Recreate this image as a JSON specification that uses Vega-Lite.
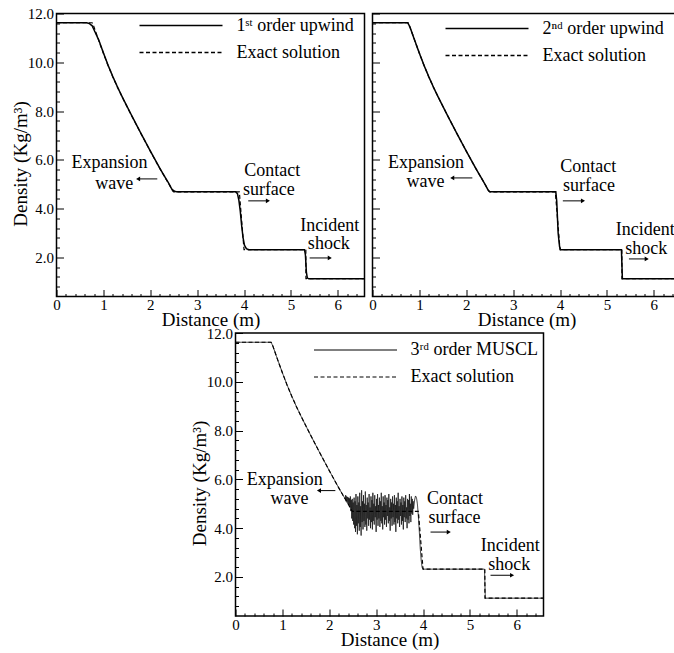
{
  "$schema": "https://vega.github.io/schema/vega-lite/v6.json",
  "padding": {"left": 10.5, "top": 5.5, "right": 0, "bottom": 0},
  "background": "white",
  "spacing": -5.5,
  "resolve": {"scale": {"x": "independent", "y": "independent", "strokeDash": "independent", "shape": "independent"}, "legend": {"strokeDash": "independent"}, "axis": {"x": "independent", "y": "independent"}},
  "config": {
    "view": {"stroke": "black", "strokeWidth": 1.5},
    "axis": {"domain": false, "grid": false, "labelFont": "Liberation Serif, Times New Roman, Times, serif", "labelFontSize": 15, "labelColor": "black", "titleFont": "Liberation Serif, Times New Roman, Times, serif", "titleFontSize": 19, "titleFontWeight": "normal", "titleColor": "black", "tickColor": "black", "tickWidth": 1, "labelOverlap": false, "labelFlush": false},
    "legend": {"title": null, "orient": "none", "symbolType": "stroke", "symbolSize": 6889, "clipHeight": 18, "labelFont": "Liberation Serif, Times New Roman, Times, serif", "labelFontSize": 18, "labelColor": "black", "labelOffset": 13, "rowPadding": 9, "padding": 0, "symbolStrokeColor": "black", "symbolStrokeWidth": 1.3, "labelLimit": 400}
  },
  "datasets": {
    "exact": [
      {"s": "Exact solution", "x": 0, "y": 11.62}, {"s": "Exact solution", "x": 0.76, "y": 11.62}, {"s": "Exact solution", "x": 0.8, "y": 11.45}, {"s": "Exact solution", "x": 0.9, "y": 10.9}, {"s": "Exact solution", "x": 1.0, "y": 10.37}, {"s": "Exact solution", "x": 1.1, "y": 9.87}, {"s": "Exact solution", "x": 1.2, "y": 9.41}, {"s": "Exact solution", "x": 1.3, "y": 8.98}, {"s": "Exact solution", "x": 1.4, "y": 8.58}, {"s": "Exact solution", "x": 1.5, "y": 8.2}, {"s": "Exact solution", "x": 1.6, "y": 7.82}, {"s": "Exact solution", "x": 1.7, "y": 7.45}, {"s": "Exact solution", "x": 1.8, "y": 7.08}, {"s": "Exact solution", "x": 1.9, "y": 6.72}, {"s": "Exact solution", "x": 2.0, "y": 6.36}, {"s": "Exact solution", "x": 2.1, "y": 6.01}, {"s": "Exact solution", "x": 2.2, "y": 5.66}, {"s": "Exact solution", "x": 2.3, "y": 5.33}, {"s": "Exact solution", "x": 2.4, "y": 5.0}, {"s": "Exact solution", "x": 2.48, "y": 4.72}, {"s": "Exact solution", "x": 2.5, "y": 4.69}, {"s": "Exact solution", "x": 3.9, "y": 4.69}, {"s": "Exact solution", "x": 4.0, "y": 2.32}, {"s": "Exact solution", "x": 5.319, "y": 2.32}, {"s": "Exact solution", "x": 5.321, "y": 1.13}, {"s": "Exact solution", "x": 6.57, "y": 1.13}
    ],
    "n1": [
      {"s": "1ˢᵗ order upwind", "x": 0, "y": 11.62}, {"s": "1ˢᵗ order upwind", "x": 0.64, "y": 11.62}, {"s": "1ˢᵗ order upwind", "x": 0.7, "y": 11.59}, {"s": "1ˢᵗ order upwind", "x": 0.76, "y": 11.5}, {"s": "1ˢᵗ order upwind", "x": 0.82, "y": 11.25}, {"s": "1ˢᵗ order upwind", "x": 0.9, "y": 10.92}, {"s": "1ˢᵗ order upwind", "x": 1.0, "y": 10.39}, {"s": "1ˢᵗ order upwind", "x": 1.1, "y": 9.88}, {"s": "1ˢᵗ order upwind", "x": 1.2, "y": 9.42}, {"s": "1ˢᵗ order upwind", "x": 1.3, "y": 8.99}, {"s": "1ˢᵗ order upwind", "x": 1.4, "y": 8.59}, {"s": "1ˢᵗ order upwind", "x": 1.5, "y": 8.21}, {"s": "1ˢᵗ order upwind", "x": 1.6, "y": 7.83}, {"s": "1ˢᵗ order upwind", "x": 1.7, "y": 7.46}, {"s": "1ˢᵗ order upwind", "x": 1.8, "y": 7.09}, {"s": "1ˢᵗ order upwind", "x": 1.9, "y": 6.73}, {"s": "1ˢᵗ order upwind", "x": 2.0, "y": 6.37}, {"s": "1ˢᵗ order upwind", "x": 2.1, "y": 6.02}, {"s": "1ˢᵗ order upwind", "x": 2.2, "y": 5.67}, {"s": "1ˢᵗ order upwind", "x": 2.3, "y": 5.34}, {"s": "1ˢᵗ order upwind", "x": 2.4, "y": 5.02}, {"s": "1ˢᵗ order upwind", "x": 2.46, "y": 4.8}, {"s": "1ˢᵗ order upwind", "x": 2.52, "y": 4.71}, {"s": "1ˢᵗ order upwind", "x": 2.58, "y": 4.69}, {"s": "1ˢᵗ order upwind", "x": 3.82, "y": 4.69}, {"s": "1ˢᵗ order upwind", "x": 3.86, "y": 4.62}, {"s": "1ˢᵗ order upwind", "x": 3.89, "y": 4.35}, {"s": "1ˢᵗ order upwind", "x": 3.92, "y": 3.9}, {"s": "1ˢᵗ order upwind", "x": 3.95, "y": 3.3}, {"s": "1ˢᵗ order upwind", "x": 3.98, "y": 2.8}, {"s": "1ˢᵗ order upwind", "x": 4.01, "y": 2.5}, {"s": "1ˢᵗ order upwind", "x": 4.05, "y": 2.36}, {"s": "1ˢᵗ order upwind", "x": 4.1, "y": 2.32}, {"s": "1ˢᵗ order upwind", "x": 5.29, "y": 2.32}, {"s": "1ˢᵗ order upwind", "x": 5.31, "y": 2.1}, {"s": "1ˢᵗ order upwind", "x": 5.33, "y": 1.4}, {"s": "1ˢᵗ order upwind", "x": 5.35, "y": 1.16}, {"s": "1ˢᵗ order upwind", "x": 5.38, "y": 1.13}, {"s": "1ˢᵗ order upwind", "x": 6.57, "y": 1.13}
    ],
    "n2": [
      {"s": "2ⁿᵈ order upwind", "x": 0, "y": 11.62}, {"s": "2ⁿᵈ order upwind", "x": 0.75, "y": 11.62}, {"s": "2ⁿᵈ order upwind", "x": 0.78, "y": 11.52}, {"s": "2ⁿᵈ order upwind", "x": 0.82, "y": 11.33}, {"s": "2ⁿᵈ order upwind", "x": 0.9, "y": 10.9}, {"s": "2ⁿᵈ order upwind", "x": 1.0, "y": 10.37}, {"s": "2ⁿᵈ order upwind", "x": 1.1, "y": 9.87}, {"s": "2ⁿᵈ order upwind", "x": 1.2, "y": 9.41}, {"s": "2ⁿᵈ order upwind", "x": 1.3, "y": 8.98}, {"s": "2ⁿᵈ order upwind", "x": 1.4, "y": 8.58}, {"s": "2ⁿᵈ order upwind", "x": 1.5, "y": 8.2}, {"s": "2ⁿᵈ order upwind", "x": 1.6, "y": 7.82}, {"s": "2ⁿᵈ order upwind", "x": 1.7, "y": 7.45}, {"s": "2ⁿᵈ order upwind", "x": 1.8, "y": 7.08}, {"s": "2ⁿᵈ order upwind", "x": 1.9, "y": 6.72}, {"s": "2ⁿᵈ order upwind", "x": 2.0, "y": 6.36}, {"s": "2ⁿᵈ order upwind", "x": 2.1, "y": 6.01}, {"s": "2ⁿᵈ order upwind", "x": 2.2, "y": 5.66}, {"s": "2ⁿᵈ order upwind", "x": 2.3, "y": 5.33}, {"s": "2ⁿᵈ order upwind", "x": 2.4, "y": 5.0}, {"s": "2ⁿᵈ order upwind", "x": 2.47, "y": 4.75}, {"s": "2ⁿᵈ order upwind", "x": 2.51, "y": 4.69}, {"s": "2ⁿᵈ order upwind", "x": 3.91, "y": 4.69}, {"s": "2ⁿᵈ order upwind", "x": 3.93, "y": 4.3}, {"s": "2ⁿᵈ order upwind", "x": 3.96, "y": 3.0}, {"s": "2ⁿᵈ order upwind", "x": 3.99, "y": 2.45}, {"s": "2ⁿᵈ order upwind", "x": 4.01, "y": 2.32}, {"s": "2ⁿᵈ order upwind", "x": 5.31, "y": 2.32}, {"s": "2ⁿᵈ order upwind", "x": 5.33, "y": 1.13}, {"s": "2ⁿᵈ order upwind", "x": 6.57, "y": 1.13}
    ],
    "n3": [
      {"s": "3ʳᵈ order MUSCL", "x": 0, "y": 11.62}, {"s": "3ʳᵈ order MUSCL", "x": 0.76, "y": 11.62}, {"s": "3ʳᵈ order MUSCL", "x": 0.8, "y": 11.45}, {"s": "3ʳᵈ order MUSCL", "x": 0.9, "y": 10.9}, {"s": "3ʳᵈ order MUSCL", "x": 1.0, "y": 10.37}, {"s": "3ʳᵈ order MUSCL", "x": 1.1, "y": 9.87}, {"s": "3ʳᵈ order MUSCL", "x": 1.2, "y": 9.41}, {"s": "3ʳᵈ order MUSCL", "x": 1.3, "y": 8.98}, {"s": "3ʳᵈ order MUSCL", "x": 1.4, "y": 8.58}, {"s": "3ʳᵈ order MUSCL", "x": 1.5, "y": 8.2}, {"s": "3ʳᵈ order MUSCL", "x": 1.6, "y": 7.82}, {"s": "3ʳᵈ order MUSCL", "x": 1.7, "y": 7.45}, {"s": "3ʳᵈ order MUSCL", "x": 1.8, "y": 7.08}, {"s": "3ʳᵈ order MUSCL", "x": 1.9, "y": 6.72}, {"s": "3ʳᵈ order MUSCL", "x": 2.0, "y": 6.36}, {"s": "3ʳᵈ order MUSCL", "x": 2.1, "y": 6.01}, {"s": "3ʳᵈ order MUSCL", "x": 2.2, "y": 5.66}, {"s": "3ʳᵈ order MUSCL", "x": 2.3, "y": 5.33},
      {"s": "3ʳᵈ order MUSCL", "x": 2.34, "y": 5.2}, {"s": "3ʳᵈ order MUSCL", "x": 2.35, "y": 5.35}, {"s": "3ʳᵈ order MUSCL", "x": 2.36, "y": 5.1}, {"s": "3ʳᵈ order MUSCL", "x": 2.37, "y": 5.3}, {"s": "3ʳᵈ order MUSCL", "x": 2.38, "y": 5.05}, {"s": "3ʳᵈ order MUSCL", "x": 2.39, "y": 5.28}, {"s": "3ʳᵈ order MUSCL", "x": 2.4, "y": 5.0}, {"s": "3ʳᵈ order MUSCL", "x": 2.41, "y": 5.25}, {"s": "3ʳᵈ order MUSCL", "x": 2.42, "y": 4.95}, {"s": "3ʳᵈ order MUSCL", "x": 2.43, "y": 5.22}, {"s": "3ʳᵈ order MUSCL", "x": 2.44, "y": 4.85}, {"s": "3ʳᵈ order MUSCL", "x": 2.45, "y": 5.3}, {"s": "3ʳᵈ order MUSCL", "x": 2.46, "y": 4.7}, {"s": "3ʳᵈ order MUSCL", "x": 2.47, "y": 5.15}, {"s": "3ʳᵈ order MUSCL", "x": 2.48, "y": 4.4}, {"s": "3ʳᵈ order MUSCL", "x": 2.49, "y": 5.2}, {"s": "3ʳᵈ order MUSCL", "x": 2.5, "y": 4.3}, {"s": "3ʳᵈ order MUSCL", "x": 2.51, "y": 5.05}, {"s": "3ʳᵈ order MUSCL", "x": 2.52, "y": 4.15}, {"s": "3ʳᵈ order MUSCL", "x": 2.53, "y": 5.25}, {"s": "3ʳᵈ order MUSCL", "x": 2.54, "y": 4.0}, {"s": "3ʳᵈ order MUSCL", "x": 2.55, "y": 5.1}, {"s": "3ʳᵈ order MUSCL", "x": 2.56, "y": 3.85}, {"s": "3ʳᵈ order MUSCL", "x": 2.57, "y": 5.4}, {"s": "3ʳᵈ order MUSCL", "x": 2.58, "y": 4.1}, {"s": "3ʳᵈ order MUSCL", "x": 2.59, "y": 4.95}, {"s": "3ʳᵈ order MUSCL", "x": 2.6, "y": 3.75}, {"s": "3ʳᵈ order MUSCL", "x": 2.61, "y": 5.3}, {"s": "3ʳᵈ order MUSCL", "x": 2.62, "y": 4.2}, {"s": "3ʳᵈ order MUSCL", "x": 2.63, "y": 5.05}, {"s": "3ʳᵈ order MUSCL", "x": 2.64, "y": 3.9}, {"s": "3ʳᵈ order MUSCL", "x": 2.65, "y": 5.45}, {"s": "3ʳᵈ order MUSCL", "x": 2.66, "y": 4.05}, {"s": "3ʳᵈ order MUSCL", "x": 2.67, "y": 4.9}, {"s": "3ʳᵈ order MUSCL", "x": 2.68, "y": 3.7}, {"s": "3ʳᵈ order MUSCL", "x": 2.69, "y": 5.55}, {"s": "3ʳᵈ order MUSCL", "x": 2.7, "y": 4.25}, {"s": "3ʳᵈ order MUSCL", "x": 2.71, "y": 5.1}, {"s": "3ʳᵈ order MUSCL", "x": 2.72, "y": 3.95}, {"s": "3ʳᵈ order MUSCL", "x": 2.73, "y": 5.35}, {"s": "3ʳᵈ order MUSCL", "x": 2.74, "y": 4.3}, {"s": "3ʳᵈ order MUSCL", "x": 2.75, "y": 5.0}, {"s": "3ʳᵈ order MUSCL", "x": 2.76, "y": 4.05}, {"s": "3ʳᵈ order MUSCL", "x": 2.77, "y": 5.5}, {"s": "3ʳᵈ order MUSCL", "x": 2.78, "y": 4.15}, {"s": "3ʳᵈ order MUSCL", "x": 2.79, "y": 4.95}, {"s": "3ʳᵈ order MUSCL", "x": 2.8, "y": 3.9}, {"s": "3ʳᵈ order MUSCL", "x": 2.81, "y": 5.25}, {"s": "3ʳᵈ order MUSCL", "x": 2.82, "y": 4.4}, {"s": "3ʳᵈ order MUSCL", "x": 2.83, "y": 5.05}, {"s": "3ʳᵈ order MUSCL", "x": 2.84, "y": 4.1}, {"s": "3ʳᵈ order MUSCL", "x": 2.85, "y": 5.4}, {"s": "3ʳᵈ order MUSCL", "x": 2.86, "y": 4.35}, {"s": "3ʳᵈ order MUSCL", "x": 2.87, "y": 4.85}, {"s": "3ʳᵈ order MUSCL", "x": 2.88, "y": 4.0}, {"s": "3ʳᵈ order MUSCL", "x": 2.89, "y": 5.3}, {"s": "3ʳᵈ order MUSCL", "x": 2.9, "y": 4.25}, {"s": "3ʳᵈ order MUSCL", "x": 2.91, "y": 5.15}, {"s": "3ʳᵈ order MUSCL", "x": 2.92, "y": 3.95}, {"s": "3ʳᵈ order MUSCL", "x": 2.93, "y": 5.45}, {"s": "3ʳᵈ order MUSCL", "x": 2.94, "y": 4.3}, {"s": "3ʳᵈ order MUSCL", "x": 2.95, "y": 5.0}, {"s": "3ʳᵈ order MUSCL", "x": 2.96, "y": 4.15}, {"s": "3ʳᵈ order MUSCL", "x": 2.97, "y": 5.35}, {"s": "3ʳᵈ order MUSCL", "x": 2.98, "y": 4.45}, {"s": "3ʳᵈ order MUSCL", "x": 2.99, "y": 4.9}, {"s": "3ʳᵈ order MUSCL", "x": 3.0, "y": 3.85}, {"s": "3ʳᵈ order MUSCL", "x": 3.01, "y": 5.2}, {"s": "3ʳᵈ order MUSCL", "x": 3.02, "y": 4.35}, {"s": "3ʳᵈ order MUSCL", "x": 3.03, "y": 5.4}, {"s": "3ʳᵈ order MUSCL", "x": 3.04, "y": 4.1}, {"s": "3ʳᵈ order MUSCL", "x": 3.05, "y": 4.95}, {"s": "3ʳᵈ order MUSCL", "x": 3.06, "y": 4.4}, {"s": "3ʳᵈ order MUSCL", "x": 3.07, "y": 5.25}, {"s": "3ʳᵈ order MUSCL", "x": 3.08, "y": 4.05}, {"s": "3ʳᵈ order MUSCL", "x": 3.09, "y": 5.1}, {"s": "3ʳᵈ order MUSCL", "x": 3.1, "y": 4.3}, {"s": "3ʳᵈ order MUSCL", "x": 3.11, "y": 5.45}, {"s": "3ʳᵈ order MUSCL", "x": 3.12, "y": 4.2}, {"s": "3ʳᵈ order MUSCL", "x": 3.13, "y": 4.9}, {"s": "3ʳᵈ order MUSCL", "x": 3.14, "y": 3.95}, {"s": "3ʳᵈ order MUSCL", "x": 3.15, "y": 5.3}, {"s": "3ʳᵈ order MUSCL", "x": 3.16, "y": 4.45}, {"s": "3ʳᵈ order MUSCL", "x": 3.17, "y": 5.05}, {"s": "3ʳᵈ order MUSCL", "x": 3.18, "y": 4.15}, {"s": "3ʳᵈ order MUSCL", "x": 3.19, "y": 5.35}, {"s": "3ʳᵈ order MUSCL", "x": 3.2, "y": 4.35}, {"s": "3ʳᵈ order MUSCL", "x": 3.21, "y": 4.95}, {"s": "3ʳᵈ order MUSCL", "x": 3.22, "y": 4.05}, {"s": "3ʳᵈ order MUSCL", "x": 3.23, "y": 5.25}, {"s": "3ʳᵈ order MUSCL", "x": 3.24, "y": 4.5}, {"s": "3ʳᵈ order MUSCL", "x": 3.25, "y": 5.15}, {"s": "3ʳᵈ order MUSCL", "x": 3.26, "y": 4.2}, {"s": "3ʳᵈ order MUSCL", "x": 3.27, "y": 5.4}, {"s": "3ʳᵈ order MUSCL", "x": 3.28, "y": 4.3}, {"s": "3ʳᵈ order MUSCL", "x": 3.29, "y": 4.85}, {"s": "3ʳᵈ order MUSCL", "x": 3.3, "y": 3.9}, {"s": "3ʳᵈ order MUSCL", "x": 3.31, "y": 5.2}, {"s": "3ʳᵈ order MUSCL", "x": 3.32, "y": 4.4}, {"s": "3ʳᵈ order MUSCL", "x": 3.33, "y": 5.05}, {"s": "3ʳᵈ order MUSCL", "x": 3.34, "y": 4.1}, {"s": "3ʳᵈ order MUSCL", "x": 3.35, "y": 5.3}, {"s": "3ʳᵈ order MUSCL", "x": 3.36, "y": 4.45}, {"s": "3ʳᵈ order MUSCL", "x": 3.37, "y": 5.0}, {"s": "3ʳᵈ order MUSCL", "x": 3.38, "y": 4.15}, {"s": "3ʳᵈ order MUSCL", "x": 3.39, "y": 5.35}, {"s": "3ʳᵈ order MUSCL", "x": 3.4, "y": 4.25}, {"s": "3ʳᵈ order MUSCL", "x": 3.41, "y": 4.95}, {"s": "3ʳᵈ order MUSCL", "x": 3.42, "y": 3.85}, {"s": "3ʳᵈ order MUSCL", "x": 3.43, "y": 5.25}, {"s": "3ʳᵈ order MUSCL", "x": 3.44, "y": 4.4}, {"s": "3ʳᵈ order MUSCL", "x": 3.45, "y": 5.1}, {"s": "3ʳᵈ order MUSCL", "x": 3.46, "y": 4.2}, {"s": "3ʳᵈ order MUSCL", "x": 3.47, "y": 5.45}, {"s": "3ʳᵈ order MUSCL", "x": 3.48, "y": 4.35}, {"s": "3ʳᵈ order MUSCL", "x": 3.49, "y": 4.9}, {"s": "3ʳᵈ order MUSCL", "x": 3.5, "y": 4.05}, {"s": "3ʳᵈ order MUSCL", "x": 3.51, "y": 5.2}, {"s": "3ʳᵈ order MUSCL", "x": 3.52, "y": 4.5}, {"s": "3ʳᵈ order MUSCL", "x": 3.53, "y": 5.05}, {"s": "3ʳᵈ order MUSCL", "x": 3.54, "y": 4.15}, {"s": "3ʳᵈ order MUSCL", "x": 3.55, "y": 5.3}, {"s": "3ʳᵈ order MUSCL", "x": 3.56, "y": 4.3}, {"s": "3ʳᵈ order MUSCL", "x": 3.57, "y": 4.95}, {"s": "3ʳᵈ order MUSCL", "x": 3.58, "y": 3.95}, {"s": "3ʳᵈ order MUSCL", "x": 3.59, "y": 5.25}, {"s": "3ʳᵈ order MUSCL", "x": 3.6, "y": 4.45}, {"s": "3ʳᵈ order MUSCL", "x": 3.61, "y": 5.1}, {"s": "3ʳᵈ order MUSCL", "x": 3.62, "y": 4.25}, {"s": "3ʳᵈ order MUSCL", "x": 3.63, "y": 5.35}, {"s": "3ʳᵈ order MUSCL", "x": 3.64, "y": 4.4}, {"s": "3ʳᵈ order MUSCL", "x": 3.65, "y": 4.85}, {"s": "3ʳᵈ order MUSCL", "x": 3.66, "y": 4.0}, {"s": "3ʳᵈ order MUSCL", "x": 3.67, "y": 5.2}, {"s": "3ʳᵈ order MUSCL", "x": 3.68, "y": 4.35}, {"s": "3ʳᵈ order MUSCL", "x": 3.69, "y": 5.15}, {"s": "3ʳᵈ order MUSCL", "x": 3.7, "y": 4.2}, {"s": "3ʳᵈ order MUSCL", "x": 3.71, "y": 5.4}, {"s": "3ʳᵈ order MUSCL", "x": 3.72, "y": 4.5}, {"s": "3ʳᵈ order MUSCL", "x": 3.73, "y": 5.0}, {"s": "3ʳᵈ order MUSCL", "x": 3.74, "y": 4.25}, {"s": "3ʳᵈ order MUSCL", "x": 3.75, "y": 5.3}, {"s": "3ʳᵈ order MUSCL", "x": 3.76, "y": 4.6}, {"s": "3ʳᵈ order MUSCL", "x": 3.77, "y": 5.2}, {"s": "3ʳᵈ order MUSCL", "x": 3.78, "y": 4.55}, {"s": "3ʳᵈ order MUSCL", "x": 3.79, "y": 5.1}, {"s": "3ʳᵈ order MUSCL", "x": 3.8, "y": 4.8},
      {"s": "3ʳᵈ order MUSCL", "x": 3.82, "y": 5.15}, {"s": "3ʳᵈ order MUSCL", "x": 3.84, "y": 5.32}, {"s": "3ʳᵈ order MUSCL", "x": 3.86, "y": 5.25}, {"s": "3ʳᵈ order MUSCL", "x": 3.88, "y": 5.0}, {"s": "3ʳᵈ order MUSCL", "x": 3.9, "y": 4.5}, {"s": "3ʳᵈ order MUSCL", "x": 3.92, "y": 3.9}, {"s": "3ʳᵈ order MUSCL", "x": 3.94, "y": 3.2}, {"s": "3ʳᵈ order MUSCL", "x": 3.96, "y": 2.7}, {"s": "3ʳᵈ order MUSCL", "x": 3.98, "y": 2.4}, {"s": "3ʳᵈ order MUSCL", "x": 4.0, "y": 2.32}, {"s": "3ʳᵈ order MUSCL", "x": 5.31, "y": 2.32}, {"s": "3ʳᵈ order MUSCL", "x": 5.33, "y": 1.13}, {"s": "3ʳᵈ order MUSCL", "x": 6.57, "y": 1.13}
    ],
    "lab1": [{"t": "Expansion", "x": 1.13, "y": 5.88}, {"t": "wave", "x": 1.23, "y": 5.02}, {"t": "Contact", "x": 4.6, "y": 5.55}, {"t": "surface", "x": 4.53, "y": 4.77}, {"t": "Incident", "x": 5.83, "y": 3.29}, {"t": "shock", "x": 5.81, "y": 2.55}],
    "arr1": [{"tail": 2.15, "head": 1.74, "y": 5.22, "dir": "left"}, {"tail": 4.09, "head": 4.51, "y": 4.32, "dir": "right"}, {"tail": 5.4, "head": 5.83, "y": 1.98, "dir": "right"}],
    "lab2": [{"t": "Expansion", "x": 1.14, "y": 5.89}, {"t": "wave", "x": 1.13, "y": 5.1}, {"t": "Contact", "x": 4.6, "y": 5.69}, {"t": "surface", "x": 4.62, "y": 4.94}, {"t": "Incident", "x": 5.82, "y": 3.13}, {"t": "shock", "x": 5.84, "y": 2.35}],
    "arr2": [{"tail": 2.13, "head": 1.7, "y": 5.26, "dir": "left"}, {"tail": 4.06, "head": 4.49, "y": 4.32, "dir": "right"}, {"tail": 5.47, "head": 5.85, "y": 1.94, "dir": "right"}],
    "lab3": [{"t": "Expansion", "x": 1.05, "y": 5.99}, {"t": "wave", "x": 1.15, "y": 5.2}, {"t": "Contact", "x": 4.68, "y": 5.2}, {"t": "surface", "x": 4.67, "y": 4.42}, {"t": "Incident", "x": 5.86, "y": 3.25}, {"t": "shock", "x": 5.84, "y": 2.48}],
    "arr3": [{"tail": 2.13, "head": 1.78, "y": 5.54, "dir": "left"}, {"tail": 4.16, "head": 4.55, "y": 3.84, "dir": "right"}, {"tail": 5.44, "head": 5.9, "y": 2.07, "dir": "right"}]
  },
  "vconcat": [
    {
      "spacing": 2,
      "resolve": {"scale": {"x": "independent", "y": "independent", "strokeDash": "independent", "shape": "independent"}, "legend": {"strokeDash": "independent"}, "axis": {"x": "independent", "y": "independent"}},
      "hconcat": [
        {
          "width": 308, "height": 283,
          "encoding": {
            "x": {"field": "x", "type": "quantitative", "scale": {"domain": [0, 6.57], "nice": false, "zero": false},
              "axis": {"title": "Distance (m)", "values": [0,0.2,0.4,0.6,0.8,1,1.2,1.4,1.6,1.8,2,2.2,2.4,2.6,2.8,3,3.2,3.4,3.6,3.8,4,4.2,4.4,4.6,4.8,5,5.2,5.4,5.6,5.8,6,6.2,6.4],
                "tickSize": {"condition": {"test": "abs(datum.value-round(datum.value))<0.001", "value": -7}, "value": -3},
                "labelExpr": "abs(datum.value-round(datum.value))<0.001 ? format(datum.value,'d') : ''",
                "labelPadding": 8, "titleY": 29, "titleBaseline": "alphabetic"}},
            "y": {"field": "y", "type": "quantitative", "scale": {"domain": [0.4, 12], "nice": false, "zero": false},
              "axis": {"title": "Density (Kg/m³)", "values": [0.8,1.2,1.6,2,2.4,2.8,3.2,3.6,4,4.4,4.8,5.2,5.6,6,6.4,6.8,7.2,7.6,8,8.4,8.8,9.2,9.6,10,10.4,10.8,11.2,11.6,12],
                "tickSize": {"condition": {"test": "abs(datum.value/2-round(datum.value/2))<0.001", "value": -7}, "value": -3},
                "labelExpr": "abs(datum.value/2-round(datum.value/2))<0.001 ? format(datum.value,'.1f') : ''",
                "labelPadding": 10, "titleX": -36, "titleY": 150, "titleBaseline": "middle"}}
          },
          "layer": [
            {"data": {"name": "n1"}, "mark": {"type": "line", "color": "black", "strokeWidth": 1.5, "clip": true},
              "encoding": {"strokeDash": {"field": "s", "type": "nominal", "scale": {"domain": ["1ˢᵗ order upwind", "Exact solution"], "range": [[1, 0], [4, 2.5]]}, "legend": {"legendX": 82, "legendY": 3}}}},
            {"data": {"name": "exact"}, "mark": {"type": "line", "color": "black", "strokeWidth": 1.2, "clip": true},
              "encoding": {"strokeDash": {"field": "s", "type": "nominal", "scale": {"domain": ["1ˢᵗ order upwind", "Exact solution"], "range": [[1, 0], [4, 2.5]]}, "legend": {"legendX": 82, "legendY": 3}}}},
            {"data": {"name": "lab1"}, "mark": {"type": "text", "font": "Liberation Serif, Times New Roman, Times, serif", "fontSize": 18, "color": "black", "baseline": "middle"}, "encoding": {"text": {"field": "t"}}},
            {"data": {"name": "arr1"}, "mark": {"type": "rule", "color": "black", "strokeWidth": 1}, "encoding": {"x": {"field": "tail", "type": "quantitative"}, "x2": {"field": "head"}}},
            {"data": {"name": "arr1"}, "mark": {"type": "point", "filled": true, "color": "black", "size": 22, "opacity": 1}, "encoding": {"x": {"field": "head", "type": "quantitative"}, "shape": {"field": "dir", "type": "nominal", "scale": {"domain": ["left", "right"], "range": ["triangle-left", "triangle-right"]}, "legend": null}}}
          ]
        },
        {
          "width": 308, "height": 283,
          "encoding": {
            "x": {"field": "x", "type": "quantitative", "scale": {"domain": [0, 6.57], "nice": false, "zero": false},
              "axis": {"title": "Distance (m)", "values": [0,0.2,0.4,0.6,0.8,1,1.2,1.4,1.6,1.8,2,2.2,2.4,2.6,2.8,3,3.2,3.4,3.6,3.8,4,4.2,4.4,4.6,4.8,5,5.2,5.4,5.6,5.8,6,6.2,6.4],
                "tickSize": {"condition": {"test": "abs(datum.value-round(datum.value))<0.001", "value": -7}, "value": -3},
                "labelExpr": "abs(datum.value-round(datum.value))<0.001 ? format(datum.value,'d') : ''",
                "labelPadding": 8, "titleY": 29, "titleBaseline": "alphabetic"}},
            "y": {"field": "y", "type": "quantitative", "scale": {"domain": [0.4, 12], "nice": false, "zero": false},
              "axis": {"title": null, "labels": false, "values": [0.8,1.2,1.6,2,2.4,2.8,3.2,3.6,4,4.4,4.8,5.2,5.6,6,6.4,6.8,7.2,7.6,8,8.4,8.8,9.2,9.6,10,10.4,10.8,11.2,11.6,12],
                "tickSize": {"condition": {"test": "abs(datum.value/2-round(datum.value/2))<0.001", "value": -7}, "value": -3}}}
          },
          "layer": [
            {"data": {"name": "n2"}, "mark": {"type": "line", "color": "black", "strokeWidth": 1.5, "clip": true},
              "encoding": {"strokeDash": {"field": "s", "type": "nominal", "scale": {"domain": ["2ⁿᵈ order upwind", "Exact solution"], "range": [[1, 0], [4, 2.5]]}, "legend": {"legendX": 72, "legendY": 6}}}},
            {"data": {"name": "exact"}, "mark": {"type": "line", "color": "black", "strokeWidth": 1.2, "clip": true},
              "encoding": {"strokeDash": {"field": "s", "type": "nominal", "scale": {"domain": ["2ⁿᵈ order upwind", "Exact solution"], "range": [[1, 0], [4, 2.5]]}, "legend": {"legendX": 72, "legendY": 6}}}},
            {"data": {"name": "lab2"}, "mark": {"type": "text", "font": "Liberation Serif, Times New Roman, Times, serif", "fontSize": 18, "color": "black", "baseline": "middle"}, "encoding": {"text": {"field": "t"}}},
            {"data": {"name": "arr2"}, "mark": {"type": "rule", "color": "black", "strokeWidth": 1}, "encoding": {"x": {"field": "tail", "type": "quantitative"}, "x2": {"field": "head"}}},
            {"data": {"name": "arr2"}, "mark": {"type": "point", "filled": true, "color": "black", "size": 22, "opacity": 1}, "encoding": {"x": {"field": "head", "type": "quantitative"}, "shape": {"field": "dir", "type": "nominal", "scale": {"domain": ["left", "right"], "range": ["triangle-left", "triangle-right"]}, "legend": null}}}
          ]
        }
      ]
    },
    {
      "spacing": 0,
      "resolve": {"scale": {"x": "independent", "y": "independent", "strokeDash": "independent", "shape": "independent"}, "legend": {"strokeDash": "independent"}, "axis": {"x": "independent", "y": "independent"}},
      "hconcat": [
        {"width": 133, "height": 10, "data": {"values": [{"k": 1}]}, "mark": {"type": "point", "opacity": 0}, "encoding": {}, "view": {"stroke": null}},
        {
          "width": 308, "height": 283,
          "encoding": {
            "x": {"field": "x", "type": "quantitative", "scale": {"domain": [0, 6.57], "nice": false, "zero": false},
              "axis": {"title": "Distance (m)", "values": [0,0.2,0.4,0.6,0.8,1,1.2,1.4,1.6,1.8,2,2.2,2.4,2.6,2.8,3,3.2,3.4,3.6,3.8,4,4.2,4.4,4.6,4.8,5,5.2,5.4,5.6,5.8,6,6.2,6.4],
                "tickSize": {"condition": {"test": "abs(datum.value-round(datum.value))<0.001", "value": -7}, "value": -3},
                "labelExpr": "abs(datum.value-round(datum.value))<0.001 ? format(datum.value,'d') : ''",
                "labelPadding": 8, "titleY": 29, "titleBaseline": "alphabetic"}},
            "y": {"field": "y", "type": "quantitative", "scale": {"domain": [0.4, 12], "nice": false, "zero": false},
              "axis": {"title": "Density (Kg/m³)", "values": [0.8,1.2,1.6,2,2.4,2.8,3.2,3.6,4,4.4,4.8,5.2,5.6,6,6.4,6.8,7.2,7.6,8,8.4,8.8,9.2,9.6,10,10.4,10.8,11.2,11.6,12],
                "tickSize": {"condition": {"test": "abs(datum.value/2-round(datum.value/2))<0.001", "value": -7}, "value": -3},
                "labelExpr": "abs(datum.value/2-round(datum.value/2))<0.001 ? format(datum.value,'.1f') : ''",
                "labelPadding": 10, "titleX": -36, "titleY": 150, "titleBaseline": "middle"}}
          },
          "layer": [
            {"data": {"name": "n3"}, "mark": {"type": "line", "color": "#1a1a1a", "strokeWidth": 0.9, "clip": true},
              "encoding": {"strokeDash": {"field": "s", "type": "nominal", "scale": {"domain": ["3ʳᵈ order MUSCL", "Exact solution"], "range": [[1, 0], [4, 2.5]]}, "legend": {"legendX": 78, "legendY": 8, "symbolStrokeWidth": 1.0}}}},
            {"data": {"name": "exact"}, "mark": {"type": "line", "color": "black", "strokeWidth": 1.2, "clip": true},
              "encoding": {"strokeDash": {"field": "s", "type": "nominal", "scale": {"domain": ["3ʳᵈ order MUSCL", "Exact solution"], "range": [[1, 0], [4, 2.5]]}, "legend": {"legendX": 78, "legendY": 8, "symbolStrokeWidth": 1.0}}}},
            {"data": {"name": "lab3"}, "mark": {"type": "text", "font": "Liberation Serif, Times New Roman, Times, serif", "fontSize": 18, "color": "black", "baseline": "middle"}, "encoding": {"text": {"field": "t"}}},
            {"data": {"name": "arr3"}, "mark": {"type": "rule", "color": "black", "strokeWidth": 1}, "encoding": {"x": {"field": "tail", "type": "quantitative"}, "x2": {"field": "head"}}},
            {"data": {"name": "arr3"}, "mark": {"type": "point", "filled": true, "color": "black", "size": 22, "opacity": 1}, "encoding": {"x": {"field": "head", "type": "quantitative"}, "shape": {"field": "dir", "type": "nominal", "scale": {"domain": ["left", "right"], "range": ["triangle-left", "triangle-right"]}, "legend": null}}}
          ]
        }
      ]
    }
  ]
}
